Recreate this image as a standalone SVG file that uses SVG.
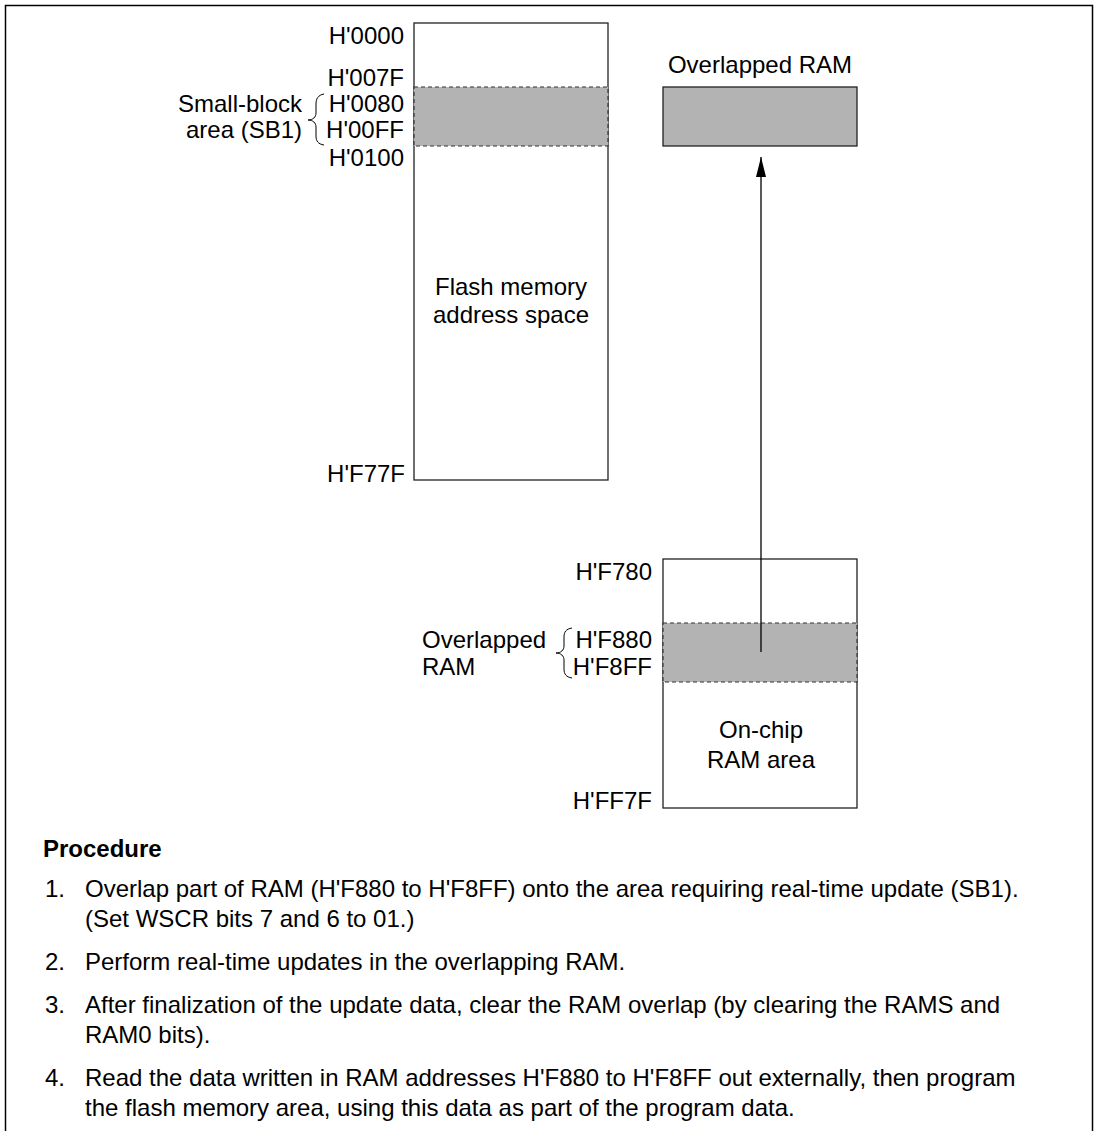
<svg xmlns="http://www.w3.org/2000/svg" width="1098" height="1131" viewBox="0 0 1098 1131">
<style>
text{font-family:"Liberation Sans",Arial,sans-serif;font-size:24px;fill:#000}
.r{text-anchor:end}
.m{text-anchor:middle}
.b{font-weight:bold}
.box{fill:#fff;stroke:#222;stroke-width:1.3}
.shade{fill:#b3b3b3;stroke:#333;stroke-width:1.2;stroke-dasharray:4 3}
.solid{fill:#b3b3b3;stroke:#222;stroke-width:1.3}
.brace{fill:none;stroke:#000;stroke-width:1}
</style>
<defs>
<marker id="ah" markerWidth="20" markerHeight="10" refX="20" refY="5" orient="auto" markerUnits="userSpaceOnUse" viewBox="0 0 20 10">
<path d="M0,0 L20,5 L0,10 Z" fill="#000"/>
</marker>
</defs>
<rect x="5.5" y="5.5" width="1087" height="1140" fill="#fff" stroke="#000" stroke-width="1.5"/>

<g id="flash">
<rect class="box" x="414" y="23" width="194" height="457"/>
<rect class="shade" x="414" y="87" width="194" height="59"/>
<text class="m" x="511" y="295">Flash memory</text>
<text class="m" x="511" y="323">address space</text>
<text class="r" x="404" y="44">H'0000</text>
<text class="r" x="404" y="86">H'007F</text>
<text class="r" x="404" y="112">H'0080</text>
<text class="r" x="404" y="138">H'00FF</text>
<text class="r" x="404" y="166">H'0100</text>
<text class="r" x="405" y="482">H'F77F</text>
</g>

<g id="sb1-label">
<path class="brace" d="M324,94 C318,95 316,99 316,104 L316,113 C316,117 313,120 308,120 C313,120 316,123 316,127 L316,136 C316,141 318,144 324,145"/>
<text class="r" x="302" y="112">Small-block</text>
<text class="r" x="302" y="138">area (SB1)</text>
</g>

<g id="overlapped-ram">
<text class="m" x="760" y="73">Overlapped RAM</text>
<rect class="solid" x="663" y="87" width="194" height="59"/>
</g>

<g id="onchip-ram">
<rect class="box" x="663" y="559" width="194" height="249"/>
<rect class="shade" x="663" y="623" width="194" height="59"/>
<text class="m" x="761" y="738">On-chip</text>
<text class="m" x="761" y="768">RAM area</text>
<text class="r" x="652" y="580">H'F780</text>
<text class="r" x="652" y="648">H'F880</text>
<text class="r" x="652" y="675">H'F8FF</text>
<text class="r" x="652" y="809">H'FF7F</text>
</g>

<g id="ovl-label">
<path class="brace" d="M572,628 C566,629 564,632 564,637 L564,646 C564,650 561,653 556,653 C561,653 564,656 564,660 L564,669 C564,674 566,677 572,678"/>
<text x="422" y="648">Overlapped</text>
<text x="422" y="675">RAM</text>
</g>

<g id="connectors">
<line x1="761" y1="652" x2="761" y2="157" stroke="#000" stroke-width="1.3" marker-end="url(#ah)"/>
</g>

<g id="procedure">
<text class="b" x="43" y="857">Procedure</text>
<text x="45" y="897">1.</text>
<text x="85" y="897">Overlap part of RAM (H'F880 to H'F8FF) onto the area requiring real-time update (SB1).</text>
<text x="85" y="927">(Set WSCR bits 7 and 6 to 01.)</text>
<text x="45" y="970">2.</text>
<text x="85" y="970">Perform real-time updates in the overlapping RAM.</text>
<text x="45" y="1013">3.</text>
<text x="85" y="1013">After finalization of the update data, clear the RAM overlap (by clearing the RAMS and</text>
<text x="85" y="1043">RAM0 bits).</text>
<text x="45" y="1086">4.</text>
<text x="85" y="1086">Read the data written in RAM addresses H'F880 to H'F8FF out externally, then program</text>
<text x="85" y="1116">the flash memory area, using this data as part of the program data.</text>
</g>
</svg>
